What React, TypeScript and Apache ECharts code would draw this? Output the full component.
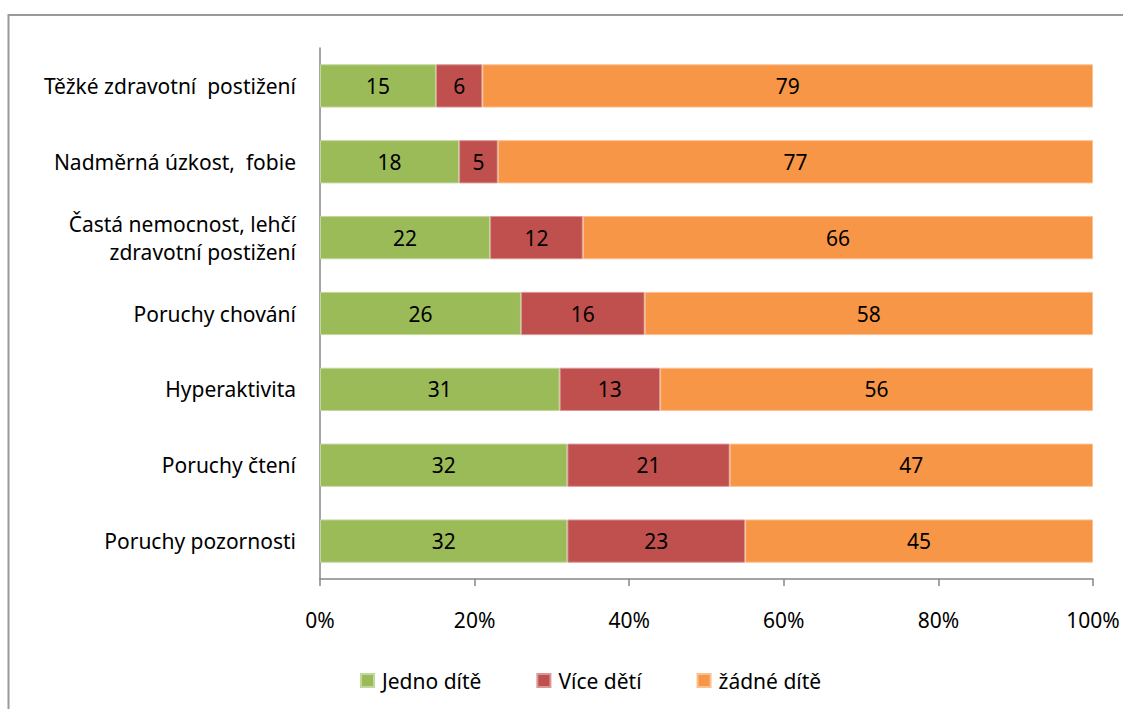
import React, { useEffect, useRef } from "react";
import * as echarts from "echarts";

const categories = [
  "Těžké zdravotní  postižení",
  "Nadměrná úzkost,  fobie",
  "Častá nemocnost, lehčí\nzdravotní postižení",
  "Poruchy chování",
  "Hyperaktivita",
  "Poruchy čtení",
  "Poruchy pozornosti",
];
const jednoDite = [15, 18, 22, 26, 31, 32, 32];
const viceDeti = [6, 5, 12, 16, 13, 21, 23];
const zadneDite = [79, 77, 66, 58, 56, 47, 45];
const seriesNames = ["Jedno dítě", "Více dětí", "žádné dítě"];
const colors = ["#9BBB59", "#C0504D", "#F79646"];
const borderColors = ["#C3D69B", "#D99694", "#FAC090"];

const FONT = "Noto Sans";
const FS = 21;

export default function App() {
  const ref = useRef<HTMLDivElement>(null);
  useEffect(() => {
    if (!ref.current) return;
    const chart = echarts.init(ref.current, undefined, { renderer: "svg" });
    const data = [jednoDite, viceDeti, zadneDite];
    chart.setOption({
      animation: false,
      textStyle: { fontFamily: FONT },
      graphic: [
        {
          type: "rect",
          shape: { x: 8.5, y: 15, width: 1300, height: 900 },
          style: { fill: "none", stroke: "#9a9a9a", lineWidth: 2 },
          silent: true,
        },
      ],
      grid: { left: 320, right: 30, top: 48, height: 531, containLabel: false },
      legend: {
        top: 665,
        left: 355,
        itemWidth: 13,
        itemHeight: 13,
        itemGap: 55,
        icon: "rect",
        textStyle: { fontFamily: FONT, fontSize: FS, color: "#000", padding: [0, 0, 0, 3] },
        data: seriesNames,
      },
      xAxis: {
        type: "value",
        min: 0,
        max: 100,
        interval: 20,
        axisLine: { show: true, lineStyle: { color: "#868686", width: 1.5 } },
        axisTick: { show: true, length: 7, lineStyle: { color: "#868686", width: 1.5 } },
        splitLine: { show: false },
        axisLabel: {
          formatter: "{value}%",
          fontFamily: FONT,
          fontSize: FS,
          color: "#000",
          margin: 30,
        },
      },
      yAxis: {
        type: "category",
        inverse: true,
        data: categories,
        axisLine: { show: true, lineStyle: { color: "#868686", width: 1.5 } },
        axisTick: { show: false },
        axisLabel: {
          fontFamily: FONT,
          fontSize: FS,
          color: "#000",
          margin: 24,
          align: "right",
          lineHeight: 28,
        },
      },
      series: seriesNames.map((name, i) => ({
        name,
        type: "bar",
        stack: "total",
        barCategoryGap: "43%",
        data: data[i],
        itemStyle: { color: colors[i], borderColor: borderColors[i], borderWidth: 1 },
        label: {
          show: true,
          position: "inside",
          fontFamily: FONT,
          fontSize: FS,
          color: "#000",
        },
      })),
    });
    return () => chart.dispose();
  }, []);
  return (
    <div
      ref={ref}
      style={{ position: "fixed", left: 0, top: 0, width: 1123, height: 709, background: "#fff" }}
    />
  );
}
